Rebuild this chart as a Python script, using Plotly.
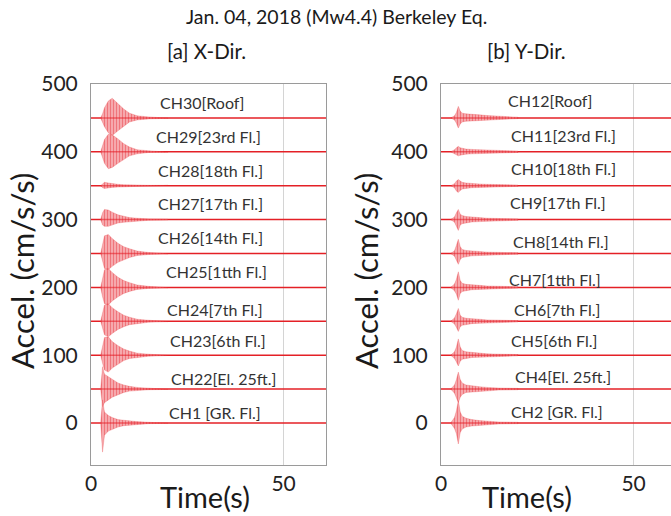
import plotly.graph_objects as go

# ---------------- data ----------------
OFFSETS = [450, 400, 350, 300, 250, 200, 150, 100, 50, 0]

X_LABELS = ["CH30[Roof]", "CH29[23rd Fl.]", "CH28[18th Fl.]", "CH27[17th Fl.]",
            "CH26[14th Fl.]", "CH25[1tth Fl.]", "CH24[7th Fl.]", "CH23[6th Fl.]",
            "CH22[El. 25ft.]", "CH1 [GR. Fl.]"]
Y_LABELS = ["CH12[Roof]", "CH11[23rd Fl.]", "CH10[18th Fl.]", "CH9[17th Fl.]",
            "CH8[14th Fl.]", "CH7[1tth Fl.]", "CH6[7th Fl.]", "CH5[6th Fl.]",
            "CH4[El. 25ft.]", "CH2 [GR. Fl.]"]

# envelope knots (s) and envelope amplitudes (cm/s/s)
X_T = [2.5, 3.0, 3.5, 4.5, 5.5, 7.0, 8.5, 10.0, 12.0, 15.0, 20.0]
X_UP = [
    [0, 6, 15, 25, 29, 21, 13, 7, 3, 1.5, 0.5],
    [0, 8, 18, 26, 25, 19, 12, 7, 3, 1.5, 0.5],
    [0, 3, 5, 4, 3, 2, 1.5, 1, 1, 0.5, 0.5],
    [0, 10, 15, 14, 11, 7, 5, 3, 2, 1, 0.5],
    [0, 15, 26, 28, 22, 15, 10, 7, 3.5, 1.5, 0.5],
    [0, 15, 26, 28, 22, 15, 10, 7, 3.5, 1.5, 0.5],
    [0, 12, 24, 26, 20, 14, 9, 6, 3, 1.5, 0.5],
    [0, 14, 26, 27, 20, 14, 9, 6, 3, 1.5, 0.5],
    [0, 33, 22, 18, 14, 9, 6, 4, 2.5, 1.5, 0.5],
    [0, 34, 16, 11, 8, 5, 4, 3, 2, 1, 0.5],
]
X_LO = [
    [0, 5, 13, 22, 26, 19, 12, 6, 3, 1.5, 0.5],
    [0, 8, 17, 25, 23, 17, 11, 6, 3, 1, 0.5],
    [0, 3, 4, 3, 2.5, 2, 1.5, 1, 1, 0.5, 0.5],
    [0, 8, 10, 10, 8, 5, 4, 3, 2, 1, 0.5],
    [0, 12, 22, 24, 19, 13, 9, 6, 3, 1.5, 0.5],
    [0, 14, 24, 26, 20, 14, 9, 6, 3, 1.5, 0.5],
    [0, 10, 20, 23, 18, 12, 8, 5, 3, 1.5, 0.5],
    [0, 12, 22, 25, 19, 13, 8, 5, 3, 1.5, 0.5],
    [0, 26, 20, 16, 12, 8, 5, 3, 2, 1, 0.5],
    [0, 43, 18, 12, 9, 6, 4, 3, 2, 1, 0.5],
]

Y_T = [2.5, 3.5, 4.0, 4.5, 5.0, 5.5, 6.5, 8.0, 10.0, 12.0, 15.0, 20.0]
Y_UP = [
    [0, 3, 8, 17, 10, 7, 6, 5, 4.5, 3.5, 2.5, 1],
    [0, 3, 6, 8, 6, 5, 4, 3.5, 3, 2.5, 1.5, 1],
    [0, 3, 7, 9, 7, 5, 4, 3, 2.5, 2, 1.5, 1],
    [0, 4, 10, 15, 8, 6, 4.5, 3.5, 3, 2, 1.5, 1],
    [0, 4, 12, 21, 10, 6, 4.5, 3.5, 3, 2, 1.5, 1],
    [0, 5, 12, 23, 10, 6, 4.5, 3.5, 3, 2, 1.5, 1],
    [0, 5, 11, 19, 9, 6, 4.5, 3.5, 3, 2, 1.5, 1],
    [0, 5, 12, 24, 12, 7, 5, 4, 3, 2, 1.5, 1],
    [0, 6, 14, 25, 14, 9, 6, 4.5, 3.5, 2.5, 1.5, 1],
    [0, 8, 18, 33, 16, 10, 7, 5, 3.5, 2.5, 1.5, 1],
]
Y_LO = [
    [0, 3, 8, 15, 9, 6, 5, 4.5, 4, 3, 2, 1],
    [0, 3, 5, 6, 5, 4, 3.5, 3, 2.5, 2, 1.5, 1],
    [0, 3, 8, 10, 7, 5, 4, 3, 2.5, 2, 1.5, 1],
    [0, 4, 10, 16, 8, 6, 4.5, 3.5, 3, 2, 1.5, 1],
    [0, 4, 10, 16, 9, 6, 4.5, 3.5, 3, 2, 1.5, 1],
    [0, 5, 10, 19, 9, 6, 4.5, 3.5, 3, 2, 1.5, 1],
    [0, 4, 9, 15, 8, 6, 4.5, 3.5, 3, 2, 1.5, 1],
    [0, 5, 10, 16, 9, 6, 4.5, 3.5, 3, 2, 1.5, 1],
    [0, 6, 12, 20, 12, 8, 5, 4, 3, 2.5, 1.5, 1],
    [0, 8, 16, 31, 14, 9, 6, 4.5, 3.5, 2.5, 1.5, 1],
]

X_TICKS = [0, 50]
Y_TICKS = [0, 100, 200, 300, 400, 500]

# ---------------- layout helpers (positions, not data) ----------------
X_LBL_X = [28.8, 30.6, 30.9, 30.9, 30.9, 32.5, 32.2, 33.0, 34.5, 32.2]
X_LBL_Y = [473, 422, 373, 324, 273, 223, 168, 121, 66, 15]
Y_LBL_X = [28.3, 31.7, 31.7, 30.4, 31.2, 29.6, 30.1, 29.4, 31.7, 30.1]
Y_LBL_Y = [475, 424, 375, 325, 267, 212, 168, 122, 68, 17]

FONT = "Lato"
RED = "rgb(228,32,38)"
W, H = 671, 516

fig = go.Figure()


def add_panel(ts, ups, los, xa, ya, xmax):
    for off, up, lo in zip(OFFSETS, ups, los):
        fig.add_trace(go.Scatter(x=[0, xmax], y=[off, off], mode="lines",
                                 line=dict(color=RED, width=1.5),
                                 xaxis=xa, yaxis=ya, showlegend=False, hoverinfo="skip"))
        px = list(ts) + list(ts)[::-1]
        py = [off + u for u in up] + [off - l for l in lo][::-1]
        fig.add_trace(go.Scatter(x=px, y=py, mode="lines", fill="toself",
                                 fillcolor="rgba(238,90,95,0.6)",
                                 fillpattern=dict(shape="|", fgcolor="rgba(225,25,35,0.85)",
                                                  bgcolor="rgba(245,140,145,0.6)",
                                                  size=3, solidity=0.5),
                                 line=dict(color="rgba(228,40,45,0.45)", width=0.5),
                                 xaxis=xa, yaxis=ya, showlegend=False, hoverinfo="skip"))


XMAX_L, XMAX_R = 61, 59.7
add_panel(X_T, X_UP, X_LO, "x", "y", XMAX_L)
add_panel(Y_T, Y_UP, Y_LO, "x2", "y2", XMAX_R)

axis_common = dict(showline=True, linecolor="#9a9a9a", linewidth=1, ticks="",
                   zeroline=False, automargin=False,
                   tickfont=dict(family=FONT, size=21, color="#222"))

fig.update_layout(
    width=W, height=H, margin=dict(l=0, r=0, t=0, b=0, pad=0, autoexpand=False),
    autosize=False, showlegend=False,
    paper_bgcolor="white", plot_bgcolor="white",
    xaxis=dict(domain=[91 / W, 326 / W], range=[0, XMAX_L], tickvals=X_TICKS,
               showgrid=True, gridcolor="#d4d4d4", mirror=True, anchor="y",
               ticklabelstandoff=0, **axis_common),
    yaxis=dict(domain=[1 - 465 / H, 1 - 84 / H], range=[-62, 500], tickvals=Y_TICKS,
               showgrid=False, mirror=True, anchor="x", ticklabelstandoff=8, **axis_common),
    xaxis2=dict(domain=[441 / W, 1.0], range=[0, XMAX_R], tickvals=X_TICKS,
                showgrid=True, gridcolor="#d4d4d4", mirror=True, anchor="y2",
                ticklabelstandoff=0, **axis_common),
    yaxis2=dict(domain=[1 - 465 / H, 1 - 84 / H], range=[-62, 500], tickvals=Y_TICKS,
                showgrid=False, mirror=False, anchor="x2", ticklabelstandoff=8, **axis_common),
)

ann = []
txt = dict(family=FONT, color="#1a1a1a")


def paper_text(text, xpx, ypx, size, angle=0):
    ann.append(dict(text=text, x=xpx / W, y=1 - ypx / H, xref="paper", yref="paper",
                    xanchor="center", yanchor="middle", showarrow=False,
                    textangle=angle, font=dict(size=size, **txt)))


paper_text("Jan. 04, 2018 (Mw4.4) Berkeley Eq.", 336, 16, 19.5)
paper_text("[a] X-Dir.", 206, 51, 20.5)
paper_text("[b] Y-Dir.", 526, 51, 20.5)
for xc in (205, 527):
    paper_text("Time(s)", xc, 496, 29)
for xc in (22, 366):
    paper_text("Accel. (cm/s/s)", xc, 271, 31, angle=-90)
for lbl, lx, ly in zip(X_LABELS, X_LBL_X, X_LBL_Y):
    ann.append(dict(text=lbl, x=lx, y=ly, xref="x", yref="y", showarrow=False,
                    xanchor="center", yanchor="middle",
                    font=dict(family=FONT, size=16, color="#333")))
for lbl, lx, ly in zip(Y_LABELS, Y_LBL_X, Y_LBL_Y):
    ann.append(dict(text=lbl, x=lx, y=ly, xref="x2", yref="y2", showarrow=False,
                    xanchor="center", yanchor="middle",
                    font=dict(family=FONT, size=16, color="#333")))
fig.update_layout(annotations=ann)

fig.write_html("out.html")
